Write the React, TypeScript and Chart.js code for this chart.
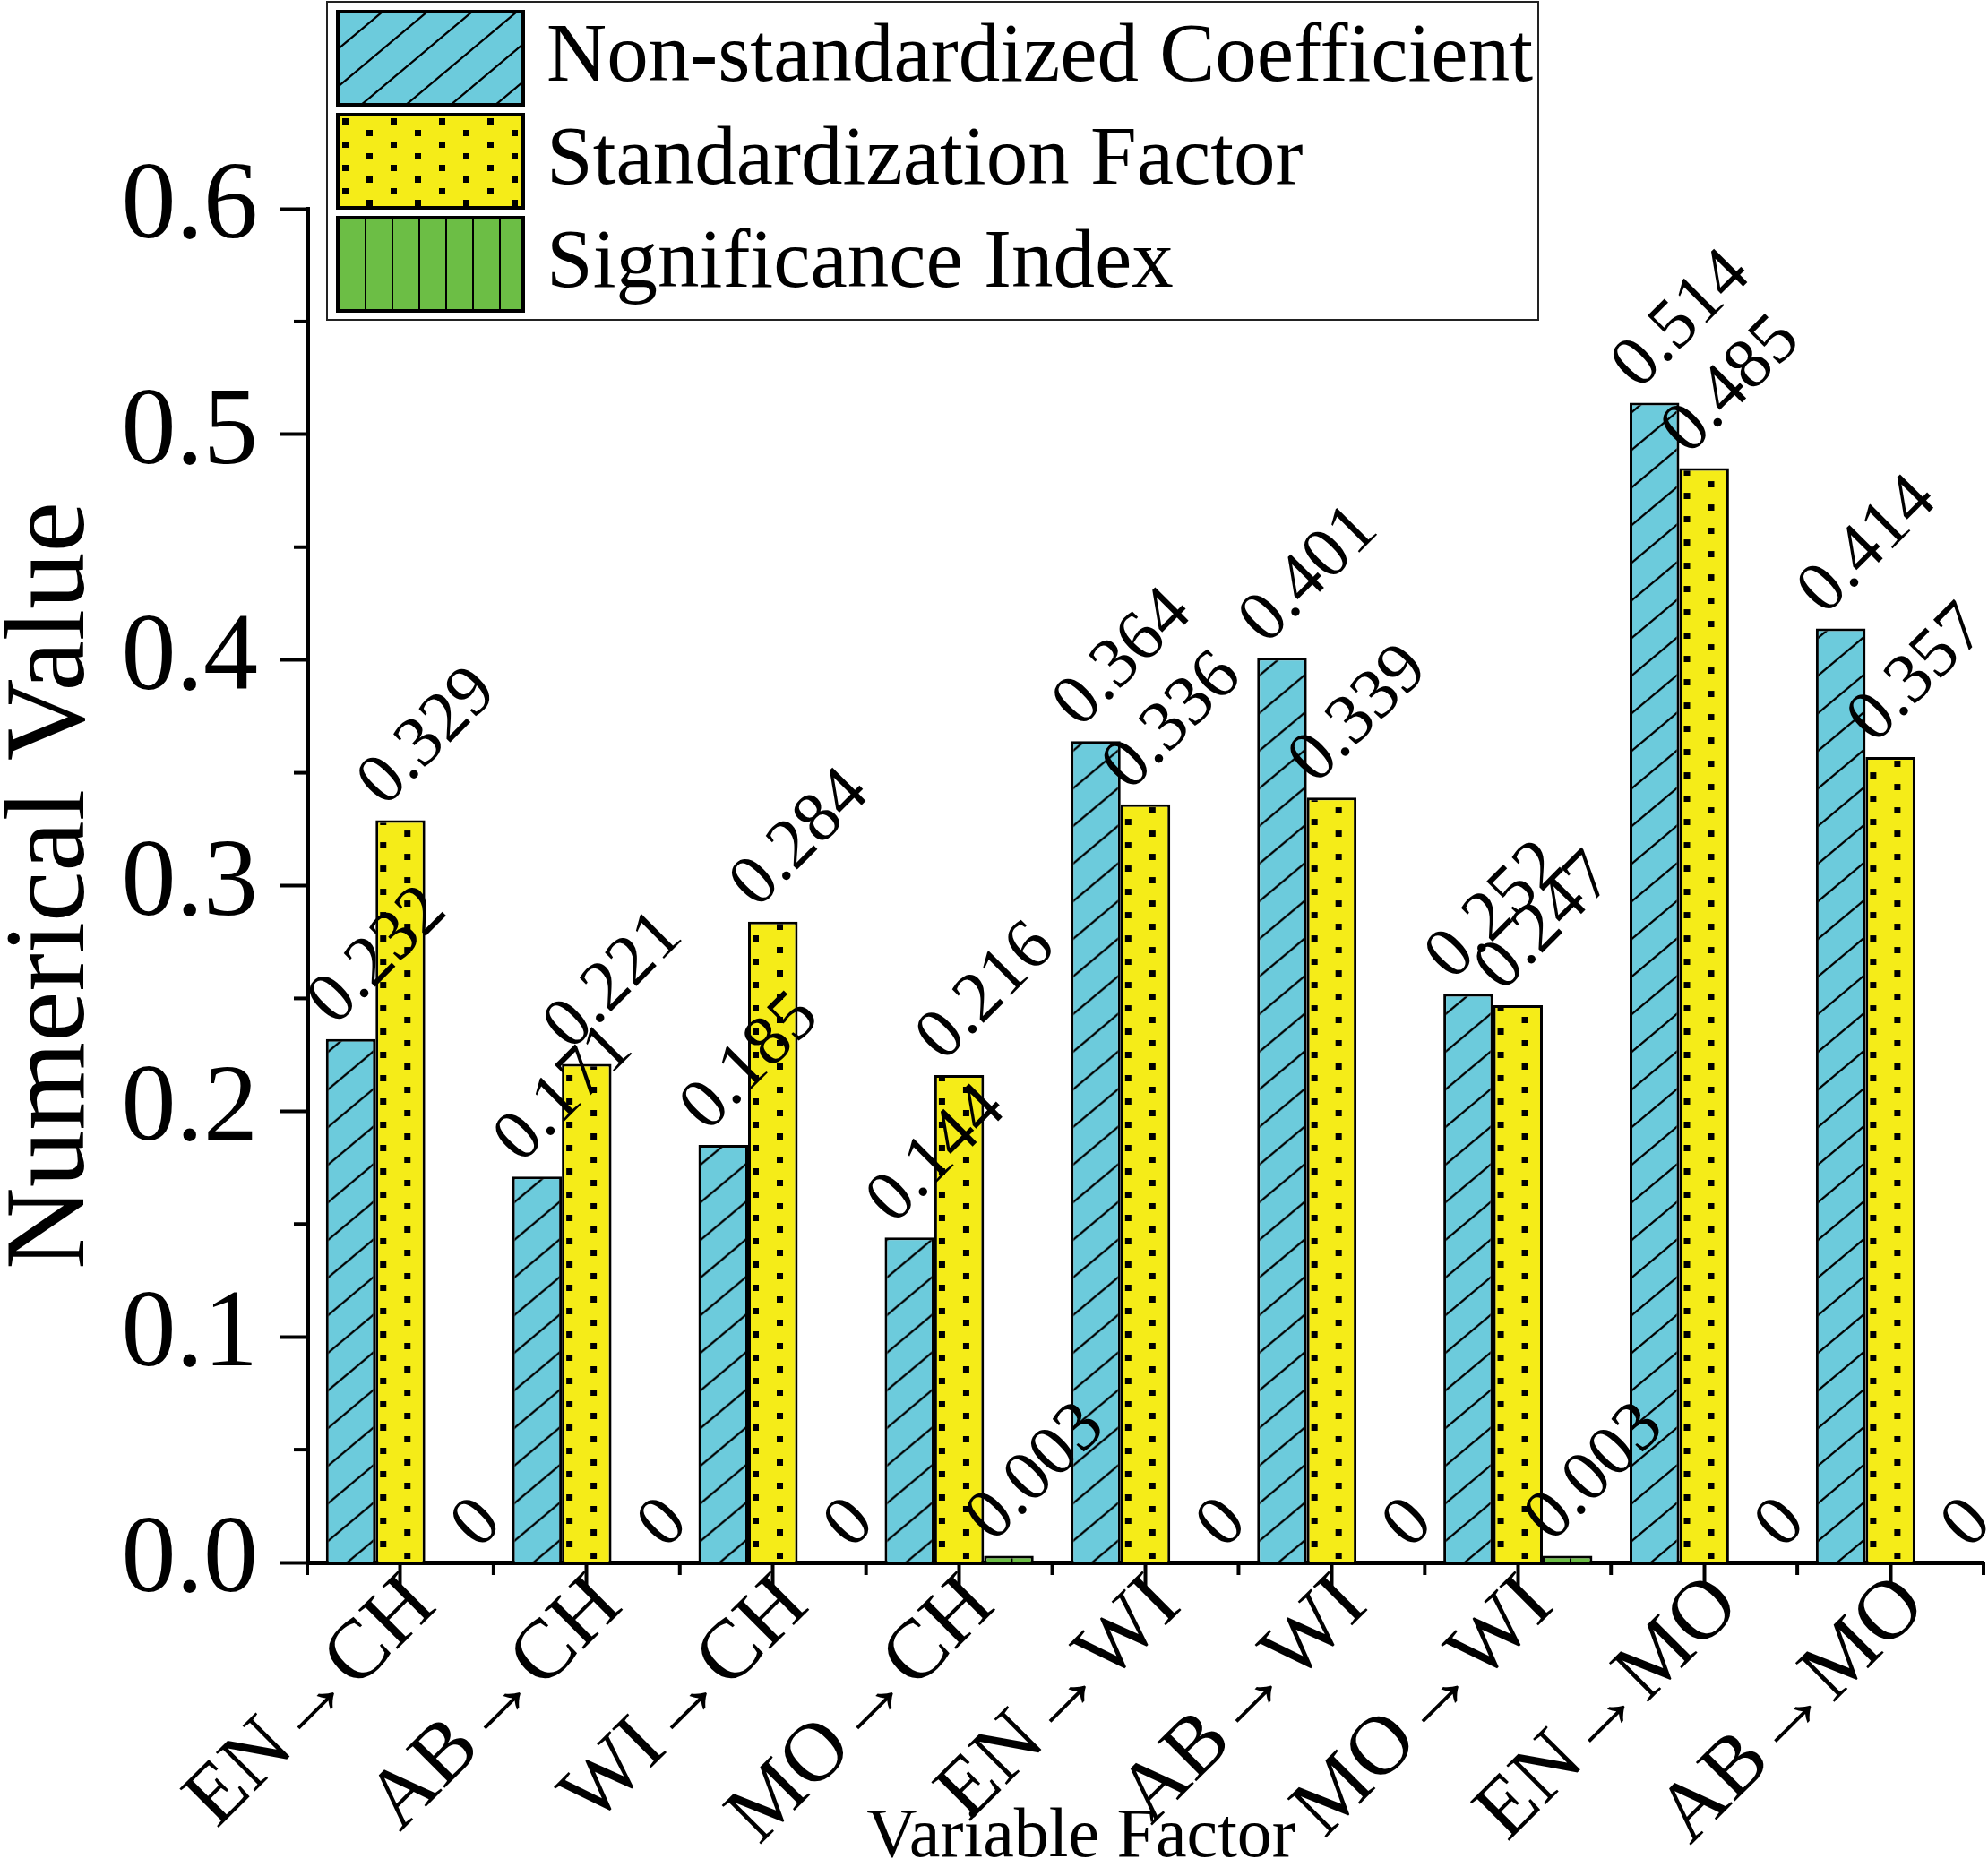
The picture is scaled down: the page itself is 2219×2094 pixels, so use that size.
import React, { useEffect, useRef } from "react";
import { Chart, Plugin, registerables } from "chart.js";

Chart.register(...registerables);

const categories = [
  "EN→CH",
  "AB→CH",
  "WI→CH",
  "MO→CH",
  "EN→WI",
  "AB→WI",
  "MO→WI",
  "EN→MO",
  "AB→MO",
];
const nonStandardized = [0.232, 0.171, 0.185, 0.144, 0.364, 0.401, 0.252, 0.514, 0.414];
const standardization = [0.329, 0.221, 0.284, 0.216, 0.336, 0.339, 0.247, 0.485, 0.357];
const significance = [0, 0, 0, 0.003, 0, 0, 0.003, 0, 0];
const seriesNames = [
  "Non-standardized Coefficient",
  "Standardization Factor",
  "Significance Index",
];
const yMajorTicks = [0, 0.1, 0.2, 0.3, 0.4, 0.5, 0.6];
const yMinorTicks = [0.05, 0.15, 0.25, 0.35, 0.45, 0.55];

const SERIF = '"Liberation Serif", "Times New Roman", serif';
const CYAN = "#6ccbdc";
const YELLOW = "#f5ec18";
const GREEN = "#6cbe45";
const CAT_PCT = 0.8;

// pattern tiles
function tile(w: number, h: number, draw: (c: CanvasRenderingContext2D) => void) {
  const cv = document.createElement("canvas");
  cv.width = w;
  cv.height = h;
  const c = cv.getContext("2d")!;
  draw(c);
  return cv;
}

function makeTiles() {
  const hatch = tile(50, 42, (c) => {
    c.fillStyle = CYAN;
    c.fillRect(0, 0, 50, 42);
    c.strokeStyle = "#000";
    c.lineWidth = 2.2;
    for (const n of [0, 1, 2]) {
      c.beginPath();
      c.moveTo(-50, n * 42 + 42);
      c.lineTo(100, n * 42 - 84);
      c.stroke();
    }
  });
  const dots = tile(54, 26, (c) => {
    c.fillStyle = YELLOW;
    c.fillRect(0, 0, 54, 26);
    c.fillStyle = "#000";
    c.fillRect(5, 4, 7, 7);
    c.fillRect(32, 17, 7, 7);
  });
  const vlines = tile(30, 10, (c) => {
    c.fillStyle = GREEN;
    c.fillRect(0, 0, 30, 10);
    c.fillStyle = "#000";
    c.fillRect(0, 0, 2, 10);
  });
  return [hatch, dots, vlines];
}

function patternAt(ctx: CanvasRenderingContext2D, t: HTMLCanvasElement, x: number, y: number) {
  const p = ctx.createPattern(t, "repeat")!;
  p.setTransform(new DOMMatrix().translate(x, y));
  return p;
}

const App: React.FC = () => {
  const canvasRef = useRef<HTMLCanvasElement | null>(null);
  const chartRef = useRef<Chart<"bar"> | null>(null);

  useEffect(() => {
    if (!canvasRef.current) return;
    const ctx = canvasRef.current.getContext("2d");
    if (!ctx) return;

    const tiles = makeTiles();
    const fallback = [CYAN, YELLOW, GREEN];

    // align each bar's pattern with the bar's left edge
    const barFill = (k: number) => (c: any) => {
      const xs = c.chart.scales?.x;
      if (!xs || c.type !== "data") return fallback[k];
      const cat = (xs.right - xs.left) / categories.length;
      const bw = (cat * CAT_PCT) / 3;
      const left = xs.getPixelForValue(c.dataIndex) - 1.5 * bw + k * bw;
      return patternAt(c.chart.ctx, tiles[k], left, 0);
    };

    const decor: Plugin<"bar"> = {
      id: "decor",
      afterDraw(chart) {
        const c = chart.ctx;
        const xs = chart.scales.x;
        const ys = chart.scales.y;
        c.save();

        // minor ticks
        c.strokeStyle = "#000";
        c.lineWidth = 4;
        yMinorTicks.forEach((v) => {
          const py = ys.getPixelForValue(v);
          c.beginPath();
          c.moveTo(ys.right - 15, py);
          c.lineTo(ys.right, py);
          c.stroke();
        });
        const half = (xs.right - xs.left) / categories.length / 2;
        for (let i = 0; i <= categories.length; i++) {
          const px =
            i < categories.length
              ? xs.getPixelForValue(i) - half
              : xs.getPixelForValue(i - 1) + half;
          c.beginPath();
          c.moveTo(px, xs.top);
          c.lineTo(px, xs.top + 14);
          c.stroke();
        }

        // value labels, rotated 45 degrees
        c.fillStyle = "#000";
        c.font = `80px ${SERIF}`;
        c.textAlign = "center";
        c.textBaseline = "middle";
        chart.data.datasets.forEach((ds, i) => {
          const meta = chart.getDatasetMeta(i);
          meta.data.forEach((el: any, j) => {
            const text = String(ds.data[j]);
            const w = c.measureText(text).width;
            const h = (w + 80) * Math.SQRT1_2;
            c.save();
            c.translate(el.x + 31, el.y - h / 2);
            c.rotate(-Math.PI / 4);
            c.fillText(text, 0, 0);
            c.restore();
          });
        });

        // x axis title
        c.font = `78px ${SERIF}`;
        c.fillText("Variable Factor", (xs.left + xs.right) / 2 - 72, xs.bottom - 42);

        // legend
        const bx = xs.left + 22;
        c.lineWidth = 2;
        c.strokeStyle = "#222";
        c.fillStyle = "#fff";
        c.fillRect(bx, 2, 1352, 355);
        c.strokeRect(bx, 2, 1352, 355);
        chart.data.datasets.forEach((ds, i) => {
          const sx = bx + 12;
          const sy = 13 + i * 115;
          c.fillStyle = patternAt(c, tiles[i], sx, sy);
          c.fillRect(sx, sy, 207, 104);
          c.lineWidth = 4;
          c.strokeStyle = "#000";
          c.strokeRect(sx, sy, 207, 104);
          c.fillStyle = "#000";
          c.font = `93px ${SERIF}`;
          c.textAlign = "left";
          c.fillText(String(ds.label), sx + 233, sy + 53);
        });

        c.restore();
      },
    };

    chartRef.current = new Chart(ctx, {
      type: "bar",
      data: {
        labels: categories,
        datasets: [nonStandardized, standardization, significance].map((d, k) => ({
          label: seriesNames[k],
          data: d,
          backgroundColor: barFill(k),
          borderColor: "#000",
          borderWidth: 3,
          categoryPercentage: CAT_PCT,
          barPercentage: 1.0,
        })),
      },
      options: {
        responsive: true,
        maintainAspectRatio: false,
        animation: false,
        layout: { padding: { top: 233, right: 5, left: 0, bottom: 0 } },
        plugins: {
          legend: { display: false },
          tooltip: { enabled: false },
        },
        scales: {
          x: {
            offset: true,
            z: 1,
            grid: {
              offset: false,
              drawOnChartArea: false,
              tickLength: 28,
              tickWidth: 4,
              tickColor: "#000",
            },
            border: { display: true, color: "#000", width: 5 },
            ticks: {
              autoSkip: false,
              maxRotation: 45,
              minRotation: 45,
              padding: -28,
              labelOffset: 25,
              color: "#000",
              font: { family: SERIF, size: 94, lineHeight: 1 },
            },
            afterFit: (s) => {
              s.height = 350;
            },
          },
          y: {
            min: 0,
            max: 0.6,
            z: 1,
            afterBuildTicks: (s) => {
              s.ticks = yMajorTicks.map((v) => ({ value: v }));
            },
            grid: {
              drawOnChartArea: false,
              tickLength: 30,
              tickWidth: 4,
              tickColor: "#000",
            },
            border: { display: true, color: "#000", width: 5 },
            ticks: {
              padding: 25,
              color: "#000",
              font: { family: SERIF, size: 122, lineHeight: 1 },
              callback: (v) => Number(v).toFixed(1),
            },
            title: {
              display: true,
              text: "Numerical Value",
              color: "#000",
              font: { family: SERIF, size: 127, lineHeight: 0.8 },
              padding: { top: 9, bottom: 0 },
            },
            afterFit: (s) => {
              s.width = 343;
            },
          },
        },
      },
      plugins: [decor],
    });

    return () => {
      chartRef.current?.destroy();
      chartRef.current = null;
    };
  }, []);

  return (
    <div
      style={{
        position: "absolute",
        left: 0,
        top: 0,
        width: 2219,
        height: 2094,
        background: "#fff",
      }}
    >
      <canvas ref={canvasRef} />
    </div>
  );
};

export default App;
